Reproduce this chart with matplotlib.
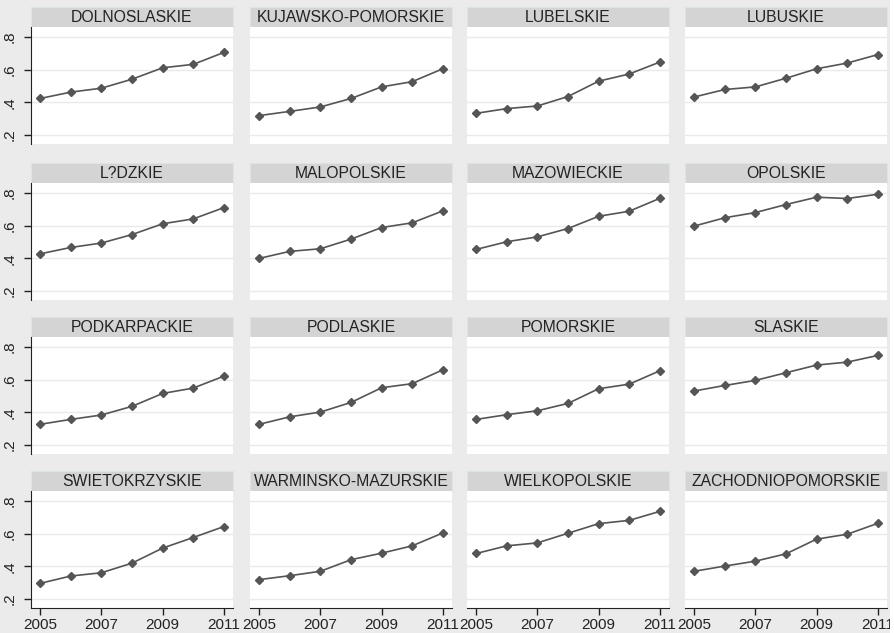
import matplotlib.pyplot as plt
from matplotlib.patches import Rectangle

plt.rcParams['font.family'] = ['Liberation Sans', 'DejaVu Sans']

years = [2005, 2006, 2007, 2008, 2009, 2010, 2011]
regions = ['DOLNOSLASKIE', 'KUJAWSKO-POMORSKIE', 'LUBELSKIE', 'LUBUSKIE',
           'L?DZKIE', 'MALOPOLSKIE', 'MAZOWIECKIE', 'OPOLSKIE',
           'PODKARPACKIE', 'PODLASKIE', 'POMORSKIE', 'SLASKIE',
           'SWIETOKRZYSKIE', 'WARMINSKO-MAZURSKIE', 'WIELKOPOLSKIE', 'ZACHODNIOPOMORSKIE']
values = [
    [0.424, 0.463, 0.487, 0.542, 0.612, 0.633, 0.706],
    [0.319, 0.345, 0.372, 0.424, 0.495, 0.527, 0.606],
    [0.333, 0.362, 0.378, 0.436, 0.530, 0.574, 0.647],
    [0.433, 0.479, 0.495, 0.548, 0.606, 0.641, 0.693],
    [0.428, 0.467, 0.494, 0.546, 0.612, 0.642, 0.711],
    [0.400, 0.443, 0.459, 0.518, 0.589, 0.618, 0.691],
    [0.455, 0.502, 0.532, 0.583, 0.658, 0.689, 0.768],
    [0.598, 0.649, 0.681, 0.730, 0.775, 0.767, 0.793],
    [0.327, 0.357, 0.384, 0.437, 0.516, 0.549, 0.622],
    [0.327, 0.373, 0.402, 0.461, 0.551, 0.576, 0.661],
    [0.357, 0.386, 0.410, 0.455, 0.545, 0.573, 0.655],
    [0.531, 0.565, 0.596, 0.643, 0.690, 0.708, 0.749],
    [0.296, 0.341, 0.361, 0.420, 0.512, 0.577, 0.644],
    [0.319, 0.343, 0.370, 0.441, 0.481, 0.526, 0.605],
    [0.479, 0.526, 0.544, 0.603, 0.662, 0.682, 0.737],
    [0.370, 0.402, 0.432, 0.477, 0.567, 0.597, 0.664],
]
yticks = [0.2, 0.4, 0.6, 0.8]
ytick_labels = ['.2', '.4', '.6', '.8']
xticks = [2005, 2007, 2009, 2011]

# layout in pixels
W, H = 895, 633
col_left = [31, 250, 467, 685]
row_top = [7, 163, 317, 471]
pw, hh, ph = 202, 20, 117

bg = '#ebebeb'
fig = plt.figure(figsize=(8.95, 6.33), dpi=100, facecolor=bg)
fig.patches.append(Rectangle((890 / W, 0), 5 / W, 1, transform=fig.transFigure,
                             facecolor='white', edgecolor='none'))

for i, (name, vals) in enumerate(zip(regions, values)):
    r, c = divmod(i, 4)
    x0, top = col_left[c], row_top[r]

    hax = fig.add_axes([x0 / W, 1 - (top + hh) / H, pw / W, hh / H])
    hax.set_facecolor('#d4d4d4')
    hax.set_xticks([])
    hax.set_yticks([])
    for s in hax.spines.values():
        s.set_color('#dde4e8')
        s.set_linewidth(0.8)
    hax.text(0.5, 0.5, name, ha='center', va='center', fontsize=11.3,
             color='#222222', transform=hax.transAxes)

    ax = fig.add_axes([x0 / W, 1 - (top + hh + ph) / H, pw / W, ph / H])
    ax.plot(years, vals, color='#555555', marker='D', ms=4.5, lw=1.2)
    ax.set_xlim(2004.7, 2011.3)
    ax.set_ylim(0.145, 0.862)
    ax.set_yticks(yticks)
    ax.set_yticklabels(ytick_labels)
    ax.set_xticks(xticks)
    ax.grid(axis='y', color='#eaeaea', lw=1)
    ax.set_axisbelow(True)
    for s in ax.spines.values():
        s.set_visible(False)

    if c == 0:
        ax.spines['left'].set_visible(True)
        ax.spines['left'].set_color('#222222')
        ax.tick_params(axis='y', length=5, width=1, pad=5, labelsize=11,
                       labelrotation=90, colors='#222222')
        for lab in ax.get_yticklabels():
            lab.set_va('center')
    else:
        ax.tick_params(axis='y', left=False, labelleft=False)

    if r == 3:
        ax.spines['bottom'].set_visible(True)
        ax.spines['bottom'].set_color('#222222')
        ax.tick_params(axis='x', length=5, width=1, pad=2, labelsize=11,
                       colors='#222222')
    else:
        ax.tick_params(axis='x', bottom=False, labelbottom=False)

fig.savefig('out.png', dpi=100, facecolor=fig.get_facecolor())
